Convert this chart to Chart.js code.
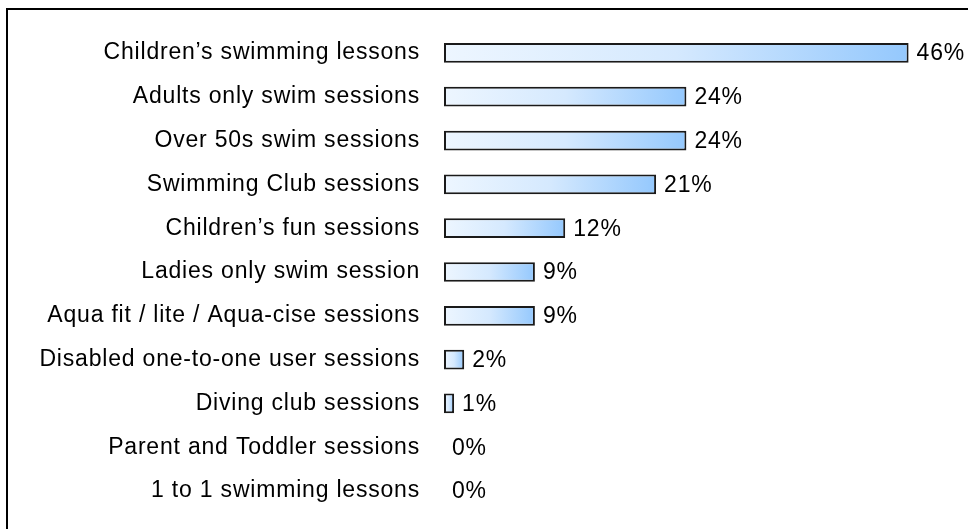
<!DOCTYPE html>
<html>
<head>
<meta charset="utf-8">
<script src="https://cdn.jsdelivr.net/npm/chart.js@4/dist/chart.umd.min.js"></script>
<style>
  body { margin: 0; background: #fff; overflow: hidden; }
  #wrap { position: relative; width: 968px; height: 529px; }
  #frame { position: absolute; left: 6px; top: 8px; width: 1000px; height: 600px; border: 2px solid #000; box-sizing: border-box; }
  canvas { position: absolute; left: 0; top: 0; }
</style>
</head>
<body>
<div id="wrap">
  <div id="frame"></div>
  <canvas id="usage-chart" width="968" height="529"></canvas>
</div>
<script>
const sessions = [
  'Children\u2019s swimming lessons',
  'Adults only swim sessions',
  'Over 50s swim sessions',
  'Swimming Club sessions',
  'Children\u2019s fun sessions',
  'Ladies only swim session',
  'Aqua fit / lite / Aqua-cise sessions',
  'Disabled one-to-one user sessions',
  'Diving club sessions',
  'Parent and Toddler sessions',
  '1 to 1 swimming lessons'
]
const percentages = [46, 24, 24, 21, 12, 9, 9, 2, 1, 0, 0]

const FONT = { family: 'Arial, "Liberation Sans", sans-serif', size: 23 }
const SPACING = '0.8px'

// light-to-blue gradient running across each bar on its own
function barGradient(ctx) {
  const chart = ctx.chart
  const x = chart.scales.x
  if (!chart.chartArea || !x) return '#99ccff'
  const v = ctx.raw || 0
  const x0 = x.getPixelForValue(0)
  const x1 = Math.max(x.getPixelForValue(v), x0 + 1)
  const g = chart.ctx.createLinearGradient(x0, 0, x1, 0)
  g.addColorStop(0, '#edf6ff')
  g.addColorStop(0.5, '#d5e9fe')
  g.addColorStop(1, '#94c8fd')
  return g
}

// slightly looser letter spacing for all the text
const spacedText = {
  id: 'spacedText',
  beforeDraw(chart) { chart.ctx.letterSpacing = SPACING }
}

// percentage text after each bar end
const valueLabels = {
  id: 'valueLabels',
  afterDatasetsDraw(chart) {
    const ctx = chart.ctx
    const meta = chart.getDatasetMeta(0)
    ctx.save()
    ctx.letterSpacing = SPACING
    ctx.font = FONT.size + 'px ' + FONT.family
    ctx.fillStyle = '#000'
    ctx.textBaseline = 'middle'
    ctx.textAlign = 'left'
    meta.data.forEach((bar, i) => {
      ctx.fillText(percentages[i] + '%', bar.x + 8, bar.y + 1)
    })
    ctx.restore()
  }
}

new Chart(document.getElementById('usage-chart'), {
  type: 'bar',
  data: {
    labels: sessions,
    datasets: [{
      data: percentages,
      backgroundColor: barGradient,
      borderColor: '#1a1a1a',
      borderWidth: ctx => (ctx.raw > 0 ? 2 : 0),
      borderSkipped: false,
      barPercentage: 0.9,
      categoryPercentage: 0.5
    }]
  },
  options: {
    indexAxis: 'y',
    responsive: false,
    animation: false,
    layout: { padding: { left: 0, right: 19, top: 31, bottom: 16 } },
    plugins: {
      legend: { display: false },
      tooltip: { enabled: false }
    },
    scales: {
      x: { display: false, min: 0, max: 50 },
      y: {
        afterFit: scale => {
          scale.width = 444
          scale.paddingTop = 0
          scale.paddingBottom = 0
        },
        grid: { display: false, drawTicks: false },
        border: { display: false },
        ticks: { color: '#000', font: FONT, padding: 24 }
      }
    }
  },
  plugins: [spacedText, valueLabels]
})
</script>
</body>
</html>
